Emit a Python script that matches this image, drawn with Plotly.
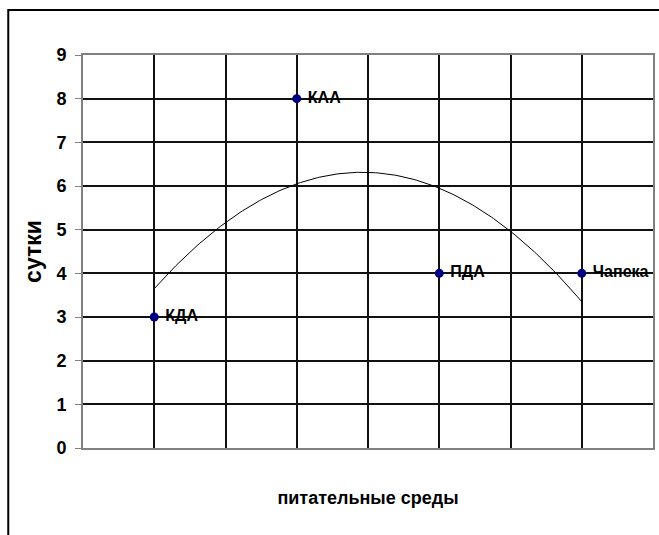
import numpy as np
import plotly.graph_objects as go

media = ["КДА", "КАА", "ПДА", "Чапека"]
x_pos = [1, 3, 5, 7]
days = [3, 8, 4, 4]

W, H = 659, 535
L, R, T, B = 83, 4, 55, 87
pw, ph = W - L - R, H - T - B

coef = np.polyfit(x_pos, days, 2)
xt = np.linspace(x_pos[0], x_pos[-1], 200)
yt = np.polyval(coef, xt)

font_family = "Liberation Sans, Arial"

fig = go.Figure()
fig.add_trace(go.Scatter(x=xt, y=yt, mode="lines",
                         line=dict(color="black", width=1), hoverinfo="skip",
                         showlegend=False))
fig.add_trace(go.Scatter(x=x_pos, y=days, mode="markers+text", text=[" " + m for m in media],
                         textposition="middle right",
                         textfont=dict(family=font_family, size=16, color="black", weight="bold"),
                         marker=dict(color="#000080", size=9),
                         cliponaxis=False, showlegend=False))

def px(xp):
    return (xp - L) / pw

def py(yp):
    return 1 - (yp - T) / ph

fig.add_shape(type="rect", xref="paper", yref="paper",
              x0=px(8), x1=px(670), y0=py(10), y1=py(560),
              line=dict(color="black", width=2), layer="above")

fig.update_layout(
    width=W, height=H,
    margin=dict(l=L, r=R, t=T, b=B),
    paper_bgcolor="white", plot_bgcolor="white",
    font=dict(family=font_family, color="black"),
    xaxis=dict(range=[0, 8], dtick=1, showticklabels=False, showgrid=True,
               gridcolor="#111111", gridwidth=1.5, zeroline=False,
               showline=True, linecolor="#808080", linewidth=2, mirror=True,
               title=dict(text="<b>питательные среды</b>", standoff=42,
                          font=dict(size=18, family=font_family))),
    yaxis=dict(range=[0, 9], dtick=1, showgrid=True, gridcolor="#111111", gridwidth=1.5,
               zeroline=False, showline=True, linecolor="#808080", linewidth=2, mirror=True,
               ticks="outside", ticklen=6, tickcolor="#808080", ticklabelstandoff=5,
               tickfont=dict(size=18, family=font_family, weight="bold"),
               title=dict(text="<b>сутки</b>", standoff=8,
                          font=dict(size=23, family=font_family))),
)

fig.write_html("out.html", config={"displayModeBar": False},
               post_script="document.body.style.margin='0';")
